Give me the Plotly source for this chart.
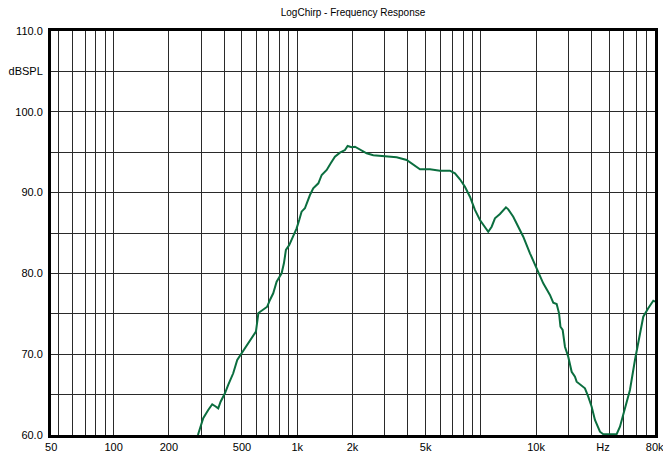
import math
import plotly.graph_objects as go

# Frequency response (axis frequency units, Hz) and level (dBSPL)
freq_hz = [287.8, 307.6, 327.5, 344.4, 356.2, 371.3, 382.5, 403.8, 420.8, 448.1,
           471.2, 497.9, 530.3, 564.6, 595.7, 614.6, 652.8, 686.2, 710.0, 740.0,
           772.2, 804.9, 822.2, 846.2, 867.7, 904.4, 951.0, 992.4, 1025, 1056,
           1101, 1133, 1173, 1222, 1303, 1359, 1447, 1522, 1604, 1708,
           1819, 1881, 1978, 2062, 2195, 2388, 2594, 3069, 3478, 3943,
           4283, 4660, 5281, 5987, 6784, 7226, 7693, 8191, 8721, 9286,
           9886, 10527, 10973, 11451, 11933, 12706, 13699, 14099, 15011, 15983,
           17018, 18512, 20132, 21868, 23784, 24790, 25870, 26663, 27135, 27895,
           28708, 29923, 31227, 32546, 33243, 34650, 36886, 38448, 40131, 41822,
           44530, 46414, 54900, 57222, 60919, 64863, 69067, 73543, 76653, 81587,
           86896, 88800]
level_db = [60.0, 62.07, 63.09, 63.8, 63.59, 63.3, 64.12, 65.16, 66.19, 67.64,
            69.28, 70.11, 70.93, 71.97, 72.79, 75.1, 75.47, 75.88, 76.71, 77.54,
            78.97, 79.59, 80.01, 81.25, 82.9, 83.51, 84.54, 85.58, 86.61, 87.64,
            88.06, 88.87, 89.7, 90.53, 91.15, 92.18, 92.8, 93.63, 94.44, 94.94,
            95.27, 95.77, 95.61, 95.68, 95.36, 94.86, 94.62, 94.44, 94.37, 94.03,
            93.42, 92.88, 92.88, 92.71, 92.71, 92.39, 91.65, 90.73, 89.49, 87.85,
            86.61, 85.78, 85.16, 85.78, 86.82, 87.35, 88.18, 87.93, 87.02, 85.78,
            84.54, 82.49, 80.67, 78.77, 77.33, 76.37, 76.21, 75.06, 73.4, 73.0,
            70.93, 69.69, 67.83, 67.22, 66.6, 66.31, 65.78, 64.74, 63.5, 61.86,
            60.41, 60.1, 60.1, 61.03, 63.3, 65.57, 69.28, 72.59, 74.64, 75.68,
            76.62, 76.5]

x_tick_vals = [45.7, 100, 200, 500, 1000, 2000, 5000, 20000, 46300, 88500]
x_tick_text = ["50", "100", "200", "500", "1k", "2k", "5k", "10k", "Hz", "80k"]
x_grid_vals = [50, 60, 70, 80, 90,
               100, 200, 300, 400, 500, 600, 700, 800, 900,
               1000, 2000, 3000, 4000, 5000, 6000, 7000, 8000, 9000,
               10000, 20000, 30000, 40000, 50000, 60000, 70000, 80000]
x_range_hz = [45.6, 88800]

y_tick_vals = [60, 70, 80, 90, 100, 105, 110]
y_tick_text = ["60.0", "70.0", "80.0", "90.0", "100.0", "dBSPL", "110.0"]
y_minor_vals = [65, 75, 85, 95]
y_range = [60, 110]

title_text = "LogChirp - Frequency Response"
line_color = "#0b6e3f"
grid_color = "#2a2a2a"
font_family = "Liberation Sans, Arial, sans-serif"

# page body has an 8px margin, so the figure is sized to fit the window
FIG_W, FIG_H = 663, 452

fig = go.Figure()
fig.add_trace(go.Scatter(x=freq_hz, y=level_db, mode="lines",
                         line=dict(color=line_color, width=2),
                         hoverinfo="skip", showlegend=False))

fig.update_layout(
    width=FIG_W, height=FIG_H,
    margin=dict(l=43, r=16, t=23, b=25, autoexpand=False),
    paper_bgcolor="white", plot_bgcolor="white",
    font=dict(family=font_family, size=11, color="black"),
    title=dict(text=title_text, x=0.5, xanchor="center", xref="paper",
               y=1 - 4.0 / FIG_H, yref="container", yanchor="middle", automargin=False,
               font=dict(family=font_family, size=10, color="black")),
    showlegend=False,
)

fig.update_xaxes(
    type="log", automargin=False,
    range=[math.log10(x_range_hz[0]), math.log10(x_range_hz[1])],
    tickmode="array", tickvals=x_tick_vals, ticktext=x_tick_text,
    showgrid=False, ticks="", zeroline=False,
    showline=True, mirror=True, linecolor="black", linewidth=3,
    tickfont=dict(size=11),
    minor=dict(tickmode="array", tickvals=x_grid_vals, showgrid=True,
               gridcolor=grid_color, gridwidth=1, ticks=""),
)

fig.update_yaxes(
    range=y_range, automargin=False,
    tickmode="array", tickvals=y_tick_vals, ticktext=y_tick_text,
    showgrid=True, gridcolor=grid_color, gridwidth=1, ticks="", zeroline=False,
    showline=True, mirror=True, linecolor="black", linewidth=3,
    tickfont=dict(size=11), ticklabelstandoff=3,
    minor=dict(tickmode="array", tickvals=y_minor_vals, showgrid=True,
               gridcolor=grid_color, gridwidth=1, ticks=""),
)

fig.write_html("out.html")
